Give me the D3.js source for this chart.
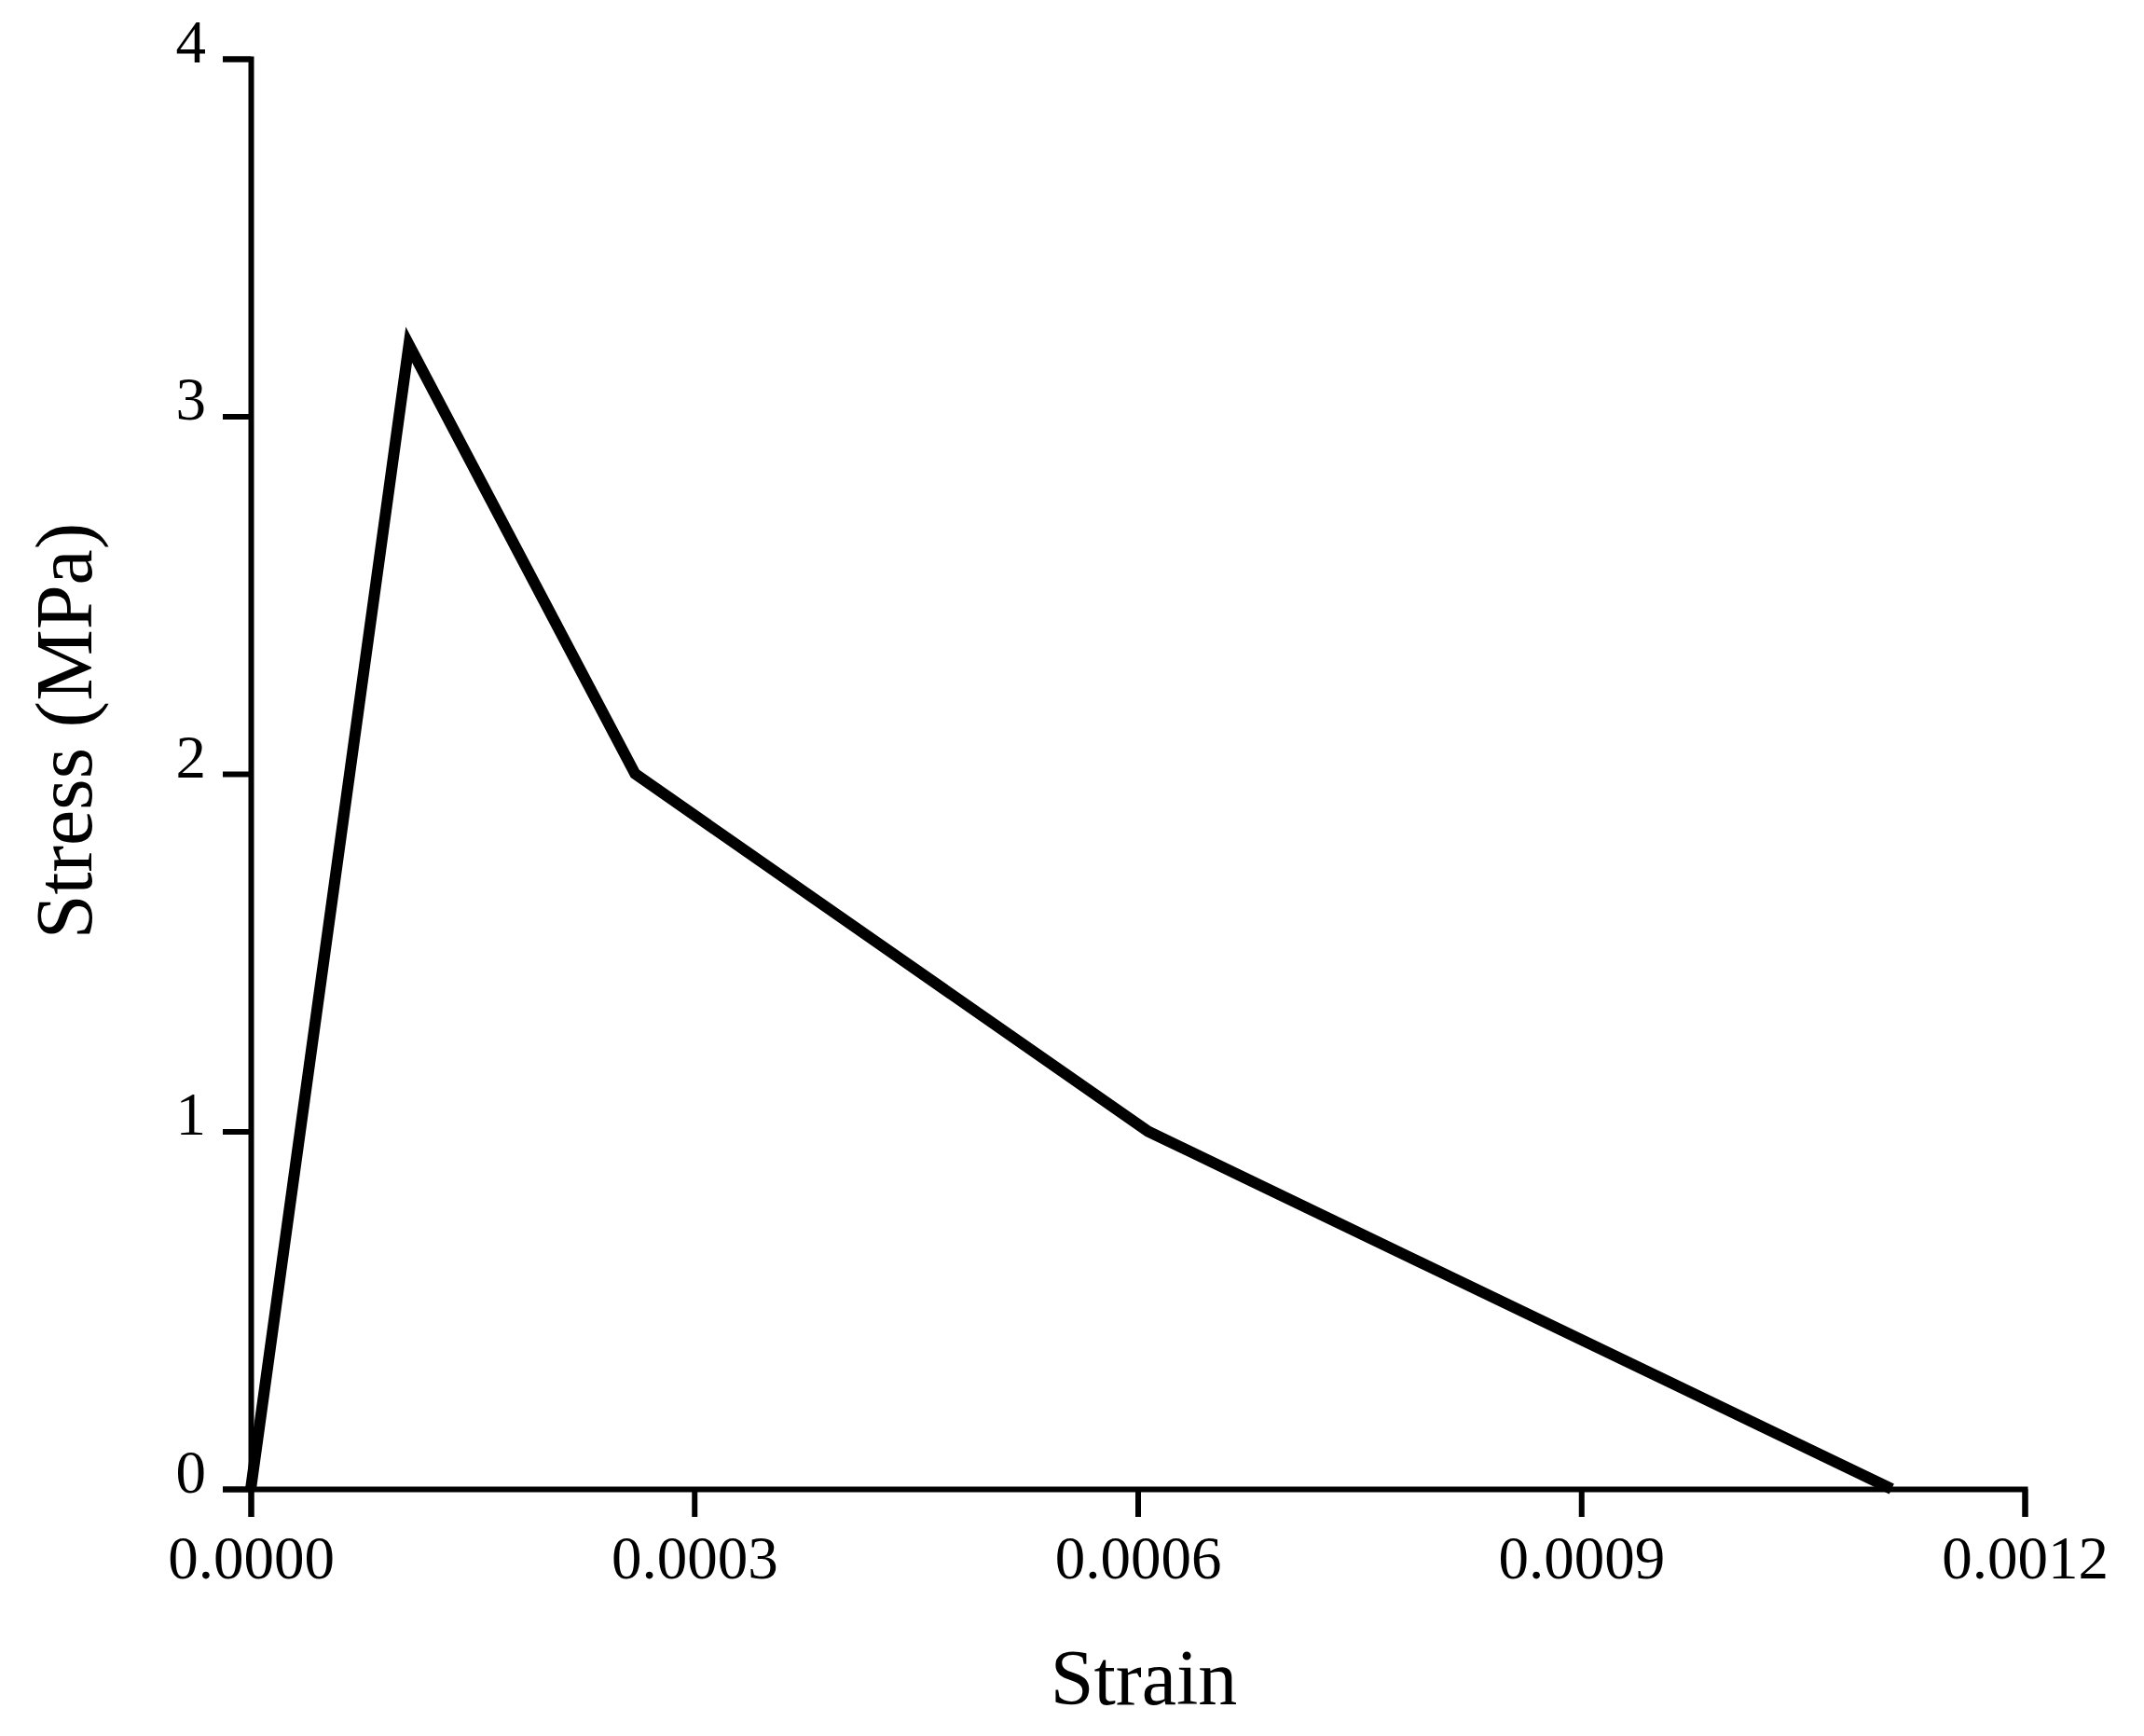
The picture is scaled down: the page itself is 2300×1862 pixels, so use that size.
<!DOCTYPE html><html><head><meta charset="utf-8">
<script src="https://cdn.jsdelivr.net/npm/d3@7"></script>
<style>body{margin:0;background:#fff}text{font-family:"Liberation Serif","Times New Roman",serif;fill:#000}</style></head><body>
<svg id="c" width="2300" height="1862"></svg>
<script>
const strain=[0,0.000107,0.00026,0.000607,0.00111];
const stress=[0,3.2,2.0,1.0,0];
const xTicks=[0,0.0003,0.0006,0.0009,0.0012];
const yTicks=[0,1,2,3,4];
const svg=d3.select("#c");
const L=269,R=2172,T=63,B=1597;
const x=d3.scaleLinear().domain([0,0.0012]).range([L,R]);
const y=d3.scaleLinear().domain([0,4]).range([B,T]);
const minorX=d3.range(0,0.00121,0.00015), minorY=d3.range(0,4.01,0.5);
const gx=svg.append("g").attr("transform",`translate(0,${B})`);
gx.call(d3.axisBottom(x).tickValues(minorX).tickSize(15).tickFormat(""));
gx.call(d3.axisBottom(x).tickValues(xTicks).tickSize(30).tickPadding(20).tickFormat(d3.format(".4f")));
const gy=svg.append("g").attr("transform",`translate(${L},0)`);
gy.call(d3.axisLeft(y).tickValues(minorY).tickSize(15).tickFormat(""));
gy.call(d3.axisLeft(y).tickValues(yTicks).tickSize(30).tickPadding(18).tickFormat(d3.format("d")));
svg.selectAll(".domain,.tick line").attr("stroke","#000").attr("stroke-width",6);
svg.selectAll(".tick text").attr("font-size",65).attr("font-family","Liberation Serif");
gy.selectAll(".tick text").attr("dy","0.05em");
svg.append("path").datum(strain.map((s,i)=>[s,stress[i]]))
 .attr("d",d3.line().x(d=>x(d[0])).y(d=>y(d[1])))
 .attr("fill","none").attr("stroke","#000").attr("stroke-width",12).attr("stroke-linejoin","miter");
svg.append("text").attr("x",1227).attr("y",1828).attr("text-anchor","middle").attr("font-size",84).text("Strain");
svg.append("text").attr("transform",`translate(98,784) rotate(-90)`).attr("text-anchor","middle").attr("font-size",86).text("Stress (MPa)");
</script></body></html>
